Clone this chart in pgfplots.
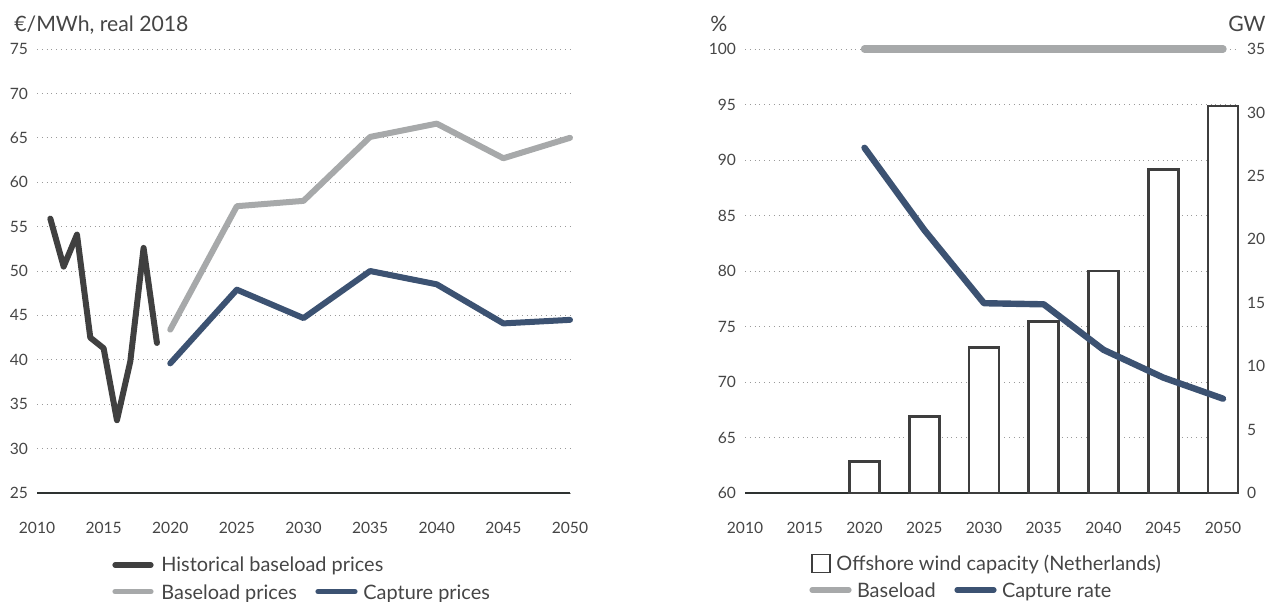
\documentclass[border=0pt]{standalone}
\usepackage{fontspec}
\setmainfont{Lato}
\usepackage{pgfplots}
\pgfplotsset{compat=1.18}
\definecolor{histc}{HTML}{404040}
\definecolor{basec}{HTML}{A7A9AA}
\definecolor{capc}{HTML}{3C5272}
\definecolor{axc}{HTML}{2E3231}
\definecolor{txtc}{HTML}{454545}
\definecolor{gridc}{HTML}{9A9A9A}
\definecolor{barc}{HTML}{3E3E3E}
\pgfplotsset{
  base/.style={
    scale only axis, clip=false, anchor=south west,
    /pgf/number format/assume math mode=true,
    /pgf/number format/1000 sep={},
    major tick length=0pt,
    tick label style={font=\fontsize{7.8}{9}\selectfont, text=txtc},
    xticklabel style={yshift=-11pt},
    yticklabel style={xshift=-1pt},
  },
}
\begin{document}
\begin{tikzpicture}
\useasboundingbox (0,0) rectangle (634pt,-300.5pt);
% ---------------- left panel ----------------
\begin{axis}[base,
  at={(18.5pt,-246.5pt)}, width=266.5pt, height=222pt,
  xmin=2010, xmax=2050, ymin=25, ymax=75,
  xtick={2010,2015,...,2050}, ytick={25,30,...,75},
  axis x line=bottom, axis y line=left,
  x axis line style={-, draw=axc, line width=1pt},
  y axis line style={draw=none},
  ymajorgrids, grid style={dotted, draw=gridc, line width=0.45pt},
]
\addplot[histc, line width=3pt, line join=round, line cap=round] coordinates {
  (2011,55.9) (2012,50.5) (2013,54.1) (2014,42.5) (2015,41.3)
  (2016,33.2) (2017,39.8) (2018,52.6) (2019,41.9)};
\addplot[basec, line width=3pt, line join=round, line cap=round] coordinates {
  (2020,43.4) (2025,57.3) (2030,57.9) (2035,65.1) (2040,66.6) (2045,62.7) (2050,65.0)};
\addplot[capc, line width=3pt, line join=round, line cap=round] coordinates {
  (2020,39.6) (2025,47.9) (2030,44.7) (2035,50.0) (2040,48.5) (2045,44.1) (2050,44.5)};
\end{axis}
% ---------------- right panel: grid + left axis ----------------
\begin{axis}[base,
  at={(372.5pt,-246.5pt)}, width=247pt, height=222pt,
  xmin=2010, xmax=2051.34, ymin=60, ymax=100,
  xtick={2010,2015,...,2050}, ytick={60,65,...,100},
  axis x line=bottom, axis y line=left,
  x axis line style={-, draw=axc, line width=1pt},
  y axis line style={draw=none},
  ymajorgrids, grid style={dotted, draw=gridc, line width=0.45pt},
]
\end{axis}
% ---------------- right panel: bars (GW) ----------------
\begin{axis}[base,
  at={(372.5pt,-246.5pt)}, width=247pt, height=222pt,
  xmin=2010, xmax=2051.34, ymin=0, ymax=35,
  ytick={0,5,...,35},
  axis y line=right, axis x line=none,
  y axis line style={draw=none},
  yticklabel style={xshift=1.5pt},
]
\addplot[ybar, bar width=2.5, draw=barc, line width=1.4pt, fill=white] coordinates {
  (2020,2.5) (2025,6.0) (2030,11.5) (2035,13.5) (2040,17.5) (2045,25.5) (2050,30.5)};
\end{axis}
% ---------------- right panel: lines (%) ----------------
\begin{axis}[base,
  at={(372.5pt,-246.5pt)}, width=247pt, height=222pt,
  xmin=2010, xmax=2051.34, ymin=60, ymax=100,
  hide axis,
]
\addplot[basec, line width=3.7pt, line cap=round] coordinates {
  (2020,100) (2025,100) (2030,100) (2035,100) (2040,100) (2045,100) (2050,100)};
\addplot[capc, line width=3.2pt, line join=round, line cap=round] coordinates {
  (2020,91.1) (2025,83.7) (2030,77.1) (2035,77.0) (2040,72.9) (2045,70.4) (2050,68.5)};
\end{axis}
% ---------------- titles ----------------
\node[anchor=base west, inner sep=0, text=txtc, font=\fontsize{10.6}{12}\selectfont] at (7pt,-15.5pt) {€/MWh, real 2018};
\node[anchor=base west, inner sep=0, text=txtc, font=\fontsize{10.6}{12}\selectfont] at (355pt,-15.5pt) {\%};
\node[anchor=base east, inner sep=0, text=txtc, font=\fontsize{10.6}{12}\selectfont] at (633pt,-15.5pt) {GW};
% ---------------- legends ----------------
\begin{scope}[every node/.style={anchor=base west, inner sep=0, text=txtc, font=\fontsize{9.95}{11}\selectfont}]
\draw[histc, line width=2.6pt, line cap=round] (57.5pt,-282.5pt) -- (75.5pt,-282.5pt);
\node at (80.5pt,-285.8pt) {Historical baseload prices};
\draw[basec, line width=2.6pt, line cap=round] (57.5pt,-295.8pt) -- (75.5pt,-295.8pt);
\node at (80.5pt,-299.6pt) {Baseload prices};
\draw[capc, line width=2.6pt, line cap=round] (159pt,-295.8pt) -- (177.5pt,-295.8pt);
\node at (181.5pt,-299.6pt) {Capture prices};
\draw[barc, line width=0.7pt, fill=white] (406pt,-277.2pt) rectangle (415pt,-286.2pt);
\node at (418pt,-285.2pt) {Offshore wind capacity (Netherlands)};
\draw[basec, line width=2.6pt, line cap=round] (406pt,-295pt) -- (424.5pt,-295pt);
\node at (428.3pt,-298.7pt) {Baseload};
\draw[capc, line width=2.6pt, line cap=round] (478.5pt,-295pt) -- (497pt,-295pt);
\node at (500.8pt,-298.7pt) {Capture rate};
\end{scope}
\end{tikzpicture}
\end{document}
